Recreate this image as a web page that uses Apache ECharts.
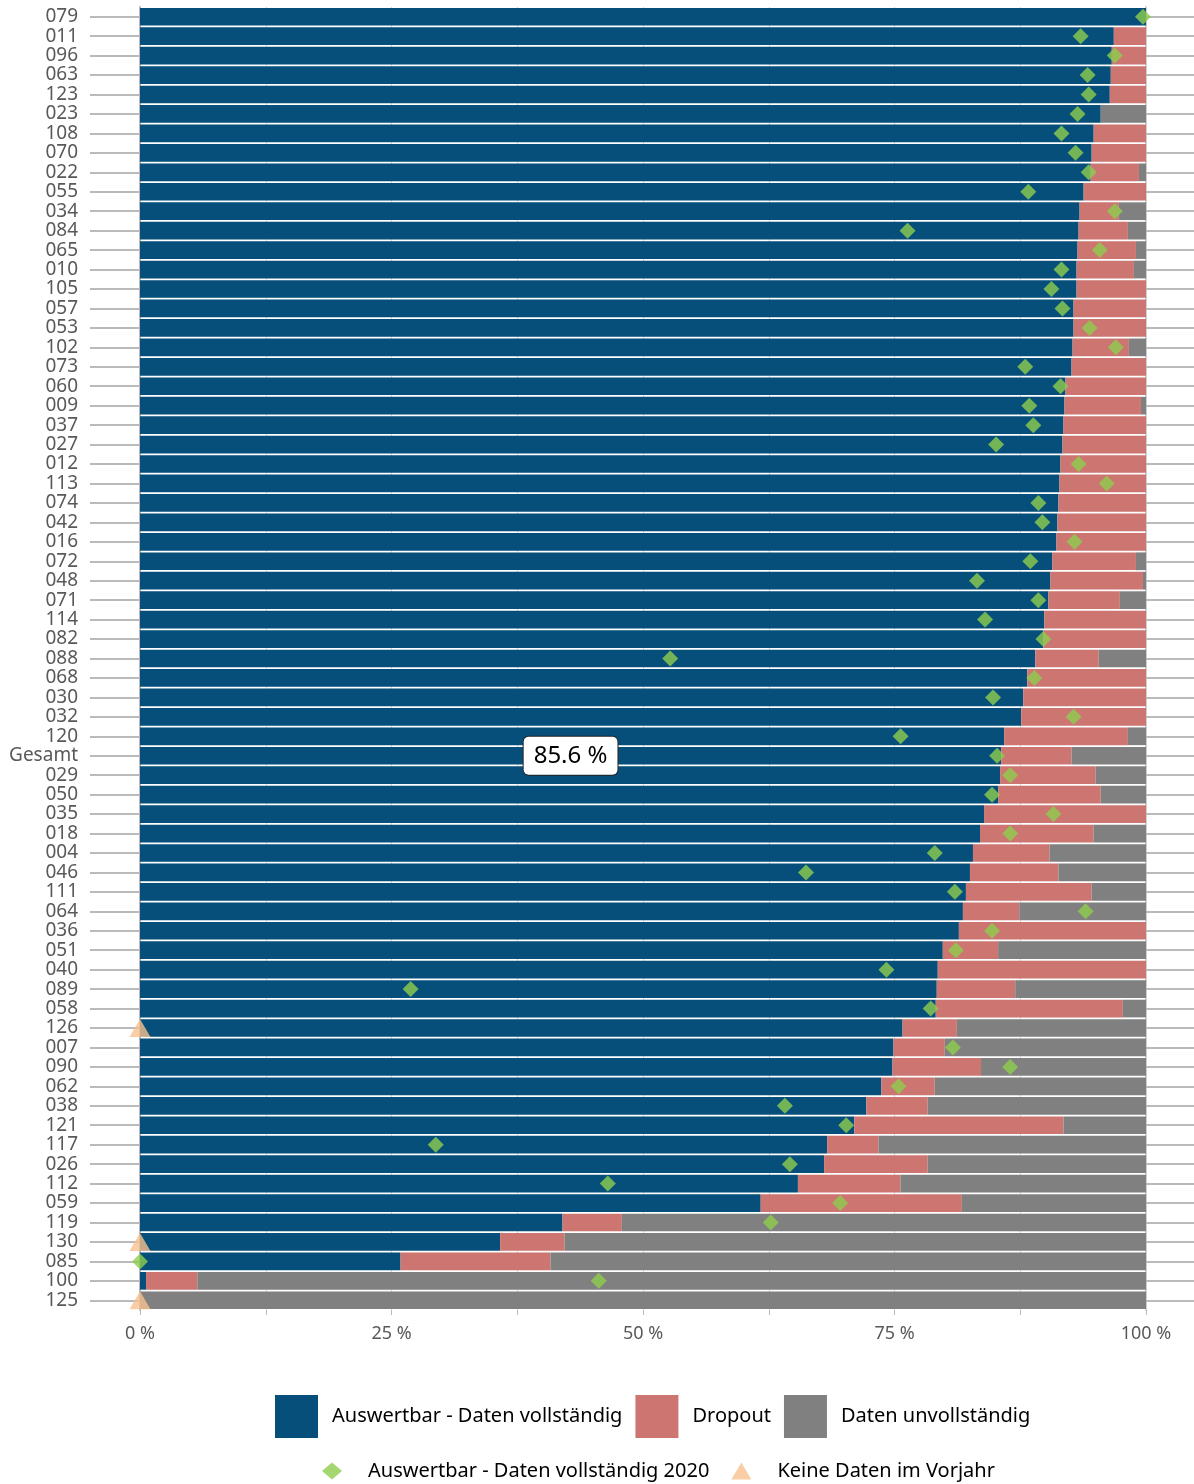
<!DOCTYPE html>
<html>
<head>
<meta charset="utf-8">
<title>Auswertbarkeit</title>
<script src="https://cdn.jsdelivr.net/npm/echarts@6/dist/echarts.min.js"></script>
<style>
    html, body { margin: 0; padding: 0; background: #fff; }
    #chart { width: 1194px; height: 1484px; }
</style>
</head>
<body>
<div id="chart"></div>
<script>
// Kategorien von oben nach unten
var categories = ['079', '011', '096', '063', '123', '023', '108', '070', '022', '055',
    '034', '084', '065', '010', '105', '057', '053', '102', '073', '060',
    '009', '037', '027', '012', '113', '074', '042', '016', '072', '048',
    '071', '114', '082', '088', '068', '030', '032', '120', 'Gesamt', '029',
    '050', '035', '018', '004', '046', '111', '064', '036', '051', '040',
    '089', '058', '126', '007', '090', '062', '038', '121', '117', '026',
    '112', '059', '119', '130', '085', '100', '125'];

// Auswertbar - Daten vollständig (%)
var complete = [100, 96.8, 96.6, 96.5, 96.4, 95.5, 94.8, 94.6, 94.5, 93.8,
    93.4, 93.3, 93.2, 93.1, 93.1, 92.8, 92.8, 92.7, 92.6, 92.0,
    91.9, 91.8, 91.7, 91.5, 91.4, 91.3, 91.2, 91.1, 90.7, 90.5,
    90.3, 89.9, 89.8, 89.0, 88.2, 87.8, 87.6, 85.9, 85.6, 85.5,
    85.3, 83.9, 83.5, 82.8, 82.5, 82.1, 81.8, 81.4, 79.8, 79.3,
    79.2, 79.1, 75.8, 74.9, 74.8, 73.7, 72.2, 71.0, 68.3, 68.0,
    65.4, 61.7, 42.0, 35.8, 25.9, 0.6, 0];

// Dropout (%)
var dropout = [0, 3.2, 3.4, 3.5, 3.6, 0, 5.2, 5.4, 4.8, 6.2,
    3.9, 4.9, 5.8, 5.7, 6.9, 7.2, 7.2, 5.6, 7.4, 8.0,
    7.6, 8.2, 8.3, 8.5, 8.6, 8.7, 8.8, 8.9, 8.3, 9.2,
    7.1, 10.1, 10.2, 6.3, 11.8, 12.2, 12.4, 12.3, 7.0, 9.5,
    10.2, 16.1, 11.3, 7.6, 8.8, 12.5, 5.6, 18.6, 5.5, 20.7,
    7.8, 18.6, 5.4, 5.1, 8.8, 5.3, 6.1, 20.8, 5.1, 10.3,
    10.2, 20.0, 5.9, 6.4, 14.9, 5.1, 0];

// Daten unvollständig (%)
var incomplete = [0, 0, 0, 0, 0, 4.5, 0, 0, 0.7, 0,
    2.7, 1.8, 1.0, 1.2, 0, 0, 0, 1.7, 0, 0,
    0.5, 0, 0, 0, 0, 0, 0, 0, 1.0, 0.3,
    2.6, 0, 0, 4.7, 0, 0, 0, 1.8, 7.4, 5.0,
    4.5, 0, 5.2, 9.6, 8.7, 5.4, 12.6, 0, 14.7, 0,
    13.0, 2.3, 18.8, 20.0, 16.4, 21.0, 21.7, 8.2, 26.6, 21.7,
    24.4, 18.3, 52.1, 57.8, 59.2, 94.3, 100];

// Auswertbar - Daten vollständig 2020 (null = keine Daten im Vorjahr)
var complete2020 = [99.7, 93.5, 96.9, 94.2, 94.3, 93.2, 91.6, 93.0, 94.3, 88.3,
    96.9, 76.3, 95.4, 91.6, 90.6, 91.7, 94.4, 97.0, 88.0, 91.5,
    88.4, 88.8, 85.1, 93.3, 96.1, 89.3, 89.7, 92.9, 88.5, 83.2,
    89.3, 84.0, 89.8, 52.7, 88.9, 84.8, 92.8, 75.6, 85.2, 86.5,
    84.7, 90.8, 86.5, 79.0, 66.2, 81.0, 94.0, 84.7, 81.1, 74.2,
    26.9, 78.6, null, 80.8, 86.5, 75.4, 64.1, 70.2, 29.4, 64.6,
    46.5, 69.6, 62.7, null, 0, 45.6, null];

// Keine Daten im Vorjahr
var noPrevCats = ['126', '130', '125'];
var noPrevValues = [0, 0, 0];

var xTicks = [0, 25, 50, 75, 100];

var colBlue = '#064f7b';
var colRed = '#cc7571';
var colGrey = '#808080';
var colGreen = '#8fcd4d';
var colOrange = '#f8c08f';
var axisGrey = '#bababa';
var textGrey = '#595959';
var fontName = '"Noto Sans", "DejaVu Sans", sans-serif';

var chart = echarts.init(document.getElementById('chart'));

// Balken "vollständig" mit Beschriftung für Gesamt
function buildCompleteData() {
    var arr = [];
    for (var i = 0; i < categories.length; i++) {
        if (categories[i] === 'Gesamt') {
            arr.push({
                value: complete[i],
                label: {
                    show: true,
                    position: 'inside',
                    formatter: function (p) {
                        return p.value.toFixed(1) + ' %';
                    },
                    color: '#000',
                    fontFamily: fontName,
                    fontSize: 24,
                    backgroundColor: '#fff',
                    borderColor: '#222',
                    borderWidth: 1,
                    borderRadius: 5,
                    padding: [7, 10, 7, 10]
                }
            });
        } else {
            arr.push(complete[i]);
        }
    }
    return arr;
}

function buildDiamonds() {
    var arr = [];
    for (var i = 0; i < categories.length; i++) {
        if (complete2020[i] !== null) {
            arr.push([complete2020[i], categories[i]]);
        }
    }
    return arr;
}

function buildTriangles() {
    var arr = [];
    for (var i = 0; i < noPrevCats.length; i++) {
        arr.push([noPrevValues[i], noPrevCats[i]]);
    }
    return arr;
}

var gridBox = { left: 140, right: 48, top: 7, height: 1303 };
// Striche links: eigenes schmales Grid von Mitte erster bis Mitte letzter Kategorie
var band = gridBox.height / categories.length;
var tickGrid = { left: 90, width: 50, top: gridBox.top + band / 2, height: gridBox.height - band };

var option = {
    animation: false,
    backgroundColor: '#fff',
    grid: [gridBox, gridBox, tickGrid],
    xAxis: [
        {
            type: 'value',
            gridIndex: 0,
            min: 0,
            max: 100,
            interval: 12.5,
            axisLine: { show: false },
            axisTick: { show: true, length: 5, lineStyle: { color: axisGrey, width: 1 } },
            splitLine: { show: true, lineStyle: { color: '#d9d9d9', width: 1 } },
            axisLabel: {
                margin: 15,
                color: textGrey,
                fontFamily: fontName,
                fontSize: 18,
                formatter: function (v) {
                    return xTicks.indexOf(v) >= 0 ? v + ' %' : '';
                }
            }
        },
        { type: 'value', gridIndex: 1, min: 0, max: 100, show: false },
        { type: 'value', gridIndex: 2, min: 0, max: 100, show: false }
    ],
    yAxis: [
        {
            type: 'category',
            gridIndex: 0,
            data: categories,
            inverse: true,
            position: 'left',
            axisLine: { show: true, onZero: false, lineStyle: { color: axisGrey, width: 2 } },
            axisTick: { show: false },
            axisLabel: {
                margin: 62,
                interval: 0,
                color: textGrey,
                fontFamily: fontName,
                fontSize: 19
            }
        },
        {
            type: 'category',
            gridIndex: 1,
            data: categories,
            inverse: true,
            position: 'right',
            axisLine: { show: true, onZero: false, lineStyle: { color: '#d0d0d0', width: 2 } },
            axisTick: { show: true, interval: 0, alignWithLabel: true, length: 48, lineStyle: { color: axisGrey, width: 2 } },
            axisLabel: { show: false }
        },
        {
            // nur Trennlinien = Striche links
            type: 'category',
            gridIndex: 2,
            data: categories,
            inverse: true,
            boundaryGap: false,
            axisLine: { show: false },
            axisTick: { show: false },
            axisLabel: { show: false },
            splitLine: { show: true, interval: 0, lineStyle: { color: axisGrey, width: 2 } }
        }
    ],
    legend: [
        {
            left: 270,
            top: 1390,
            itemWidth: 43,
            itemHeight: 43,
            itemGap: 13,
            icon: 'rect',
            textStyle: { color: '#000', fontFamily: fontName, fontSize: 20, padding: [0, 0, 0, 9] },
            data: ['Auswertbar - Daten vollständig', 'Dropout', 'Daten unvollständig']
        },
        {
            left: 317,
            top: 1456,
            itemWidth: 20,
            itemHeight: 17,
            itemGap: 22,
            textStyle: { color: '#000', fontFamily: fontName, fontSize: 20, padding: [0, 0, 0, 21] },
            data: [
                { name: 'Auswertbar - Daten vollständig 2020', icon: 'diamond' },
                { name: 'Keine Daten im Vorjahr', icon: 'triangle' }
            ]
        }
    ],
    series: [
        {
            name: 'Auswertbar - Daten vollständig',
            type: 'bar',
            stack: 'total',
            barCategoryGap: '9%',
            itemStyle: { color: colBlue },
            data: buildCompleteData()
        },
        {
            name: 'Dropout',
            type: 'bar',
            stack: 'total',
            itemStyle: { color: colRed },
            data: dropout
        },
        {
            name: 'Daten unvollständig',
            type: 'bar',
            stack: 'total',
            itemStyle: { color: colGrey },
            data: incomplete
        },
        {
            name: 'Auswertbar - Daten vollständig 2020',
            type: 'scatter',
            symbol: 'diamond',
            symbolSize: [16, 16],
            z: 5,
            itemStyle: { color: colGreen },
            data: buildDiamonds()
        },
        {
            name: 'Keine Daten im Vorjahr',
            type: 'scatter',
            symbol: 'triangle',
            symbolSize: [21, 18],
            z: 5,
            itemStyle: { color: colOrange },
            data: buildTriangles()
        }
    ]
};

chart.setOption(option);
</script>
</body>
</html>
